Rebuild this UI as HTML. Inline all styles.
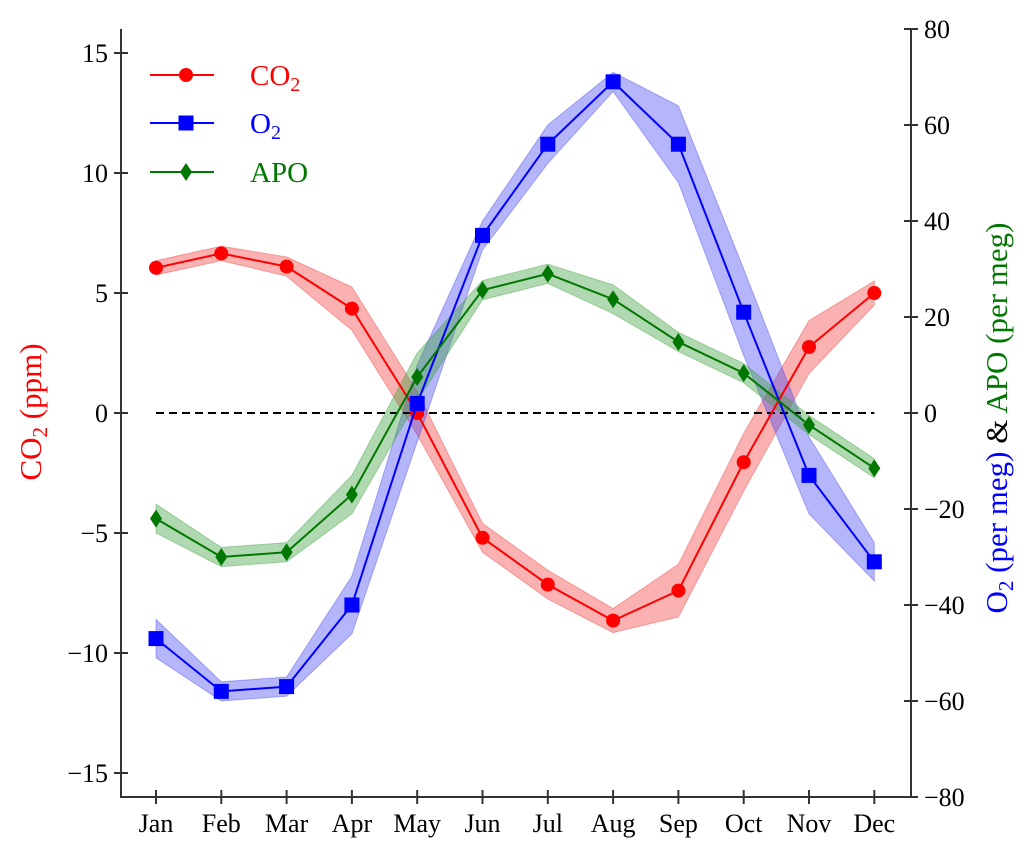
<!DOCTYPE html>
<html><head><meta charset="utf-8"><style>
body{margin:0;background:#fff}
svg text{font-family:"Liberation Serif",serif}
</style></head><body>
<svg id="chart" width="1033" height="858" xmlns="http://www.w3.org/2000/svg" style="position:absolute;left:0;top:0">
<g id="bands"></g><g id="lines"></g><g id="axes"></g>
</svg>
<script>
const months=["Jan","Feb","Mar","Apr","May","Jun","Jul","Aug","Sep","Oct","Nov","Dec"];
const co2=[6.05,6.65,6.1,4.35,0.0,-5.2,-7.15,-8.65,-7.4,-2.05,2.75,5.0];
const co2Err=[0.3,0.3,0.4,0.9,0.9,0.6,0.6,0.5,1.1,1.2,1.1,0.5];
const o2=[-47,-58,-57,-40,2,37,56,69,56,21,-13,-31];
const o2Err=[4,2,2,6,8,3,4,2,8,9,8,4];
const apo=[-22,-30,-29,-17,7.5,25.6,29,23.7,14.8,8.3,-2.5,-11.5];
const apoErr=[3,2,2,4,5,2,2,3,2,2,2,2];
const leftTicks=[-15,-10,-5,0,5,10,15];
const rightTicks=[-80,-60,-40,-20,0,20,40,60,80];

const NS="http://www.w3.org/2000/svg";
const L=121,R=911,T=29,B=797,Y0=413;
const x=i=>156+i*65.3;
const yL=v=>Y0-v*24;
const yR=v=>Y0-v*4.8;
function mk(tag,attrs,parent){const e=document.createElementNS(NS,tag);for(const k in attrs)e.setAttribute(k,attrs[k]);parent.appendChild(e);return e;}
const bands=document.getElementById('bands'),lines=document.getElementById('lines'),axes=document.getElementById('axes');

const z=mk('line',{x1:x(0),x2:x(11),y1:Y0,y2:Y0,stroke:'#000','stroke-width':2,'stroke-dasharray':'8,5'},lines);



const series=[
 {name:'co2',vals:co2,err:co2Err,y:yL,col:'#ff0000',fill:'rgba(240,60,60,0.4)',m:'circle'},
 {name:'o2',vals:o2,err:o2Err,y:yR,col:'#0000ff',fill:'rgba(70,70,240,0.4)',m:'square'},
 {name:'apo',vals:apo,err:apoErr,y:yR,col:'#007700',fill:'rgba(60,160,60,0.4)',m:'diamond'}
];
function marker(type,cx,cy,col,parent){
 let e;
 if(type==='circle')e=mk('circle',{cx:cx,cy:cy,r:7,fill:col},parent);
 else if(type==='square')e=mk('rect',{x:cx-7.5,y:cy-7.5,width:15,height:15,fill:col},parent);
 else e=mk('polygon',{points:`${cx},${cy-9} ${cx+6},${cy} ${cx},${cy+9} ${cx-6},${cy}`,fill:col},parent);
 return e;
}
series.forEach(s=>{
 let up=s.vals.map((v,i)=>x(i)+','+s.y(v+s.err[i]));
 let dn=s.vals.map((v,i)=>x(i)+','+s.y(v-s.err[i])).reverse();
 const b=mk('polygon',{points:up.concat(dn).join(' '),fill:s.fill,stroke:s.fill,'stroke-width':1},bands);
 
 
 const l=mk('polyline',{points:s.vals.map((v,i)=>x(i)+','+s.y(v)).join(' '),fill:'none',stroke:s.col,'stroke-width':2},lines);
 
 
 s.vals.forEach((v,i)=>{
  const m=marker(s.m,x(i),s.y(v),s.col,lines);
  
  
 });
});

const ax=mk('path',{d:`M${L},${T} V${B} H${R} V${T}`,fill:'none',stroke:'#333','stroke-width':2},axes);


leftTicks.forEach(v=>{
 mk('line',{x1:L-7,x2:L+7,y1:yL(v),y2:yL(v),stroke:'#333','stroke-width':2},axes);
 const t=mk('text',{x:L-13,y:yL(v)+9,'text-anchor':'end','font-size':26},axes);
 t.textContent=v<0?'\u2212'+(-v):v;
 
 
});
rightTicks.forEach(v=>{
 mk('line',{x1:R-7,x2:R+7,y1:yR(v),y2:yR(v),stroke:'#333','stroke-width':2},axes);
 const t=mk('text',{x:R+13,y:yR(v)+9,'text-anchor':'start','font-size':26},axes);
 t.textContent=v<0?'\u2212'+(-v):v;
 
 
});
months.forEach((m,i)=>{
 mk('line',{x1:x(i),x2:x(i),y1:B-7,y2:B+7,stroke:'#333','stroke-width':2},axes);
 const t=mk('text',{x:x(i),y:B+35,'text-anchor':'middle','font-size':26},axes);
 t.textContent=m;
 
 
});

const leg=[['CO','2','#ff0000','circle',75],['O','2','#0000ff','square',123],['APO','','#007700','diamond',172]];
leg.forEach(e=>{
 const g=mk('g',{},axes);
 
 
 mk('line',{x1:150,x2:214,y1:e[4],y2:e[4],stroke:e[2],'stroke-width':2},g);
 marker(e[3],186,e[4],e[2],g);
 const t=mk('text',{x:250,y:e[4]+10,'font-size':29,fill:e[2]},g);
 t.textContent=e[0];
 if(e[1]){const s=mk('tspan',{'font-size':20,dy:6},t);s.textContent=e[1];}
});
</script>
<svg style="position:absolute;left:0;top:0" width="1033" height="858" xmlns="http://www.w3.org/2000/svg">
<text transform="translate(41,412) rotate(-90)" text-anchor="middle" font-size="31" fill="#ff0000" font-family="Liberation Serif, serif">CO<tspan font-size="21" dy="6">2</tspan><tspan dy="-6"> (ppm)</tspan></text>
<text transform="translate(1007,418) rotate(-90)" text-anchor="middle" font-size="31" font-family="Liberation Serif, serif"><tspan fill="#0000ff">O</tspan><tspan fill="#0000ff" font-size="21" dy="6">2</tspan><tspan fill="#0000ff" dy="-6"> (per meg)</tspan><tspan fill="#000"> &amp; </tspan><tspan fill="#007700">APO (per meg)</tspan></text>
</svg>
</body></html>
